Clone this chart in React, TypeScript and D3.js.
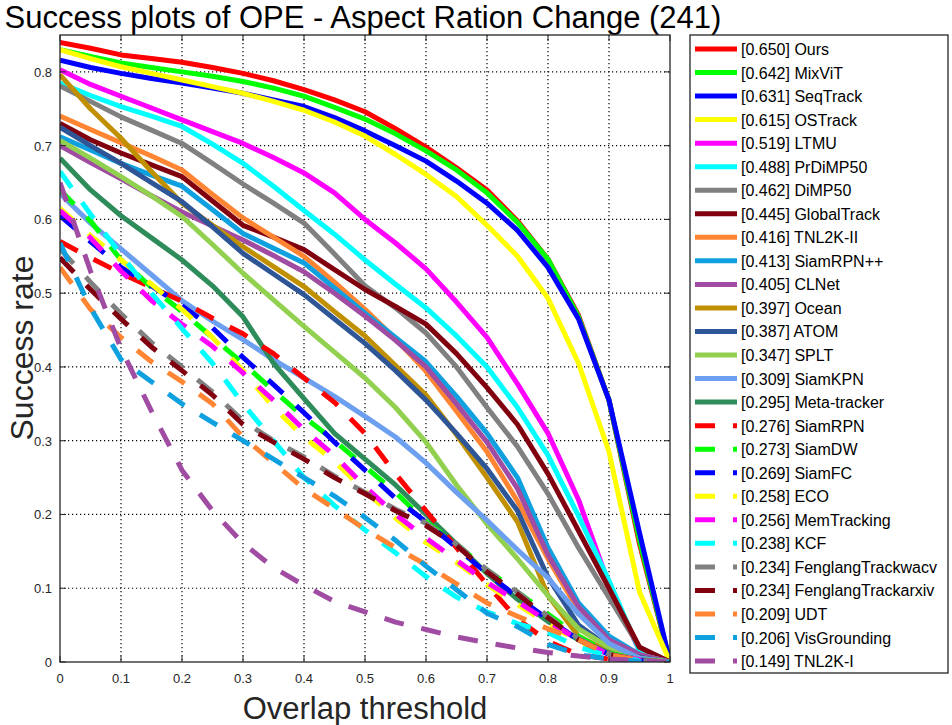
import React from "react";
import * as d3 from "d3";

// overlap thresholds sampled along the x axis
const thresholds = [0, 0.05, 0.1, 0.15, 0.2, 0.25, 0.3, 0.35, 0.4, 0.45, 0.5, 0.55, 0.6, 0.65, 0.7, 0.75, 0.8, 0.85, 0.9, 0.95, 1];

const trackers = [
  "Ours", "MixViT", "SeqTrack", "OSTrack", "LTMU", "PrDiMP50", "DiMP50", "GlobalTrack",
  "TNL2K-II", "SiamRPN++", "CLNet", "Ocean", "ATOM", "SPLT", "SiamKPN", "Meta-tracker",
  "SiamRPN", "SiamDW", "SiamFC", "ECO", "MemTracking", "KCF", "FenglangTrackwacv",
  "FenglangTrackarxiv", "UDT", "VisGrounding", "TNL2K-I",
];

const scores = [
  "0.650", "0.642", "0.631", "0.615", "0.519", "0.488", "0.462", "0.445",
  "0.416", "0.413", "0.405", "0.397", "0.387", "0.347", "0.309", "0.295",
  "0.276", "0.273", "0.269", "0.258", "0.256", "0.238", "0.234",
  "0.234", "0.209", "0.206", "0.149",
];

const colors = [
  "#ff0000", "#00ff00", "#0000ff", "#ffff00", "#ff00ff", "#00ffff", "#808080", "#800010",
  "#ff8533", "#0fa0e0", "#a04ca2", "#c09000", "#2e5596", "#92d050", "#6c9ff0", "#2e8b5a",
  "#ff0000", "#00ff00", "#0000ff", "#ffff00", "#ff00ff", "#00ffff", "#808080",
  "#800010", "#ff8533", "#0fa0e0", "#a04ca2",
];

// success rate per threshold, one array per tracker (legend order)
const ours = [0.840, 0.832, 0.823, 0.818, 0.813, 0.806, 0.798, 0.788, 0.776, 0.762, 0.746, 0.723, 0.698, 0.670, 0.640, 0.598, 0.546, 0.470, 0.355, 0.160, 0];
const mixvit = [0.830, 0.821, 0.812, 0.806, 0.800, 0.794, 0.787, 0.778, 0.767, 0.752, 0.736, 0.716, 0.693, 0.667, 0.636, 0.596, 0.546, 0.468, 0.355, 0.165, 0];
const seqtrack = [0.816, 0.806, 0.798, 0.791, 0.785, 0.778, 0.771, 0.762, 0.753, 0.738, 0.720, 0.700, 0.679, 0.652, 0.622, 0.585, 0.535, 0.465, 0.355, 0.175, 0];
const ostrack = [0.830, 0.818, 0.807, 0.798, 0.789, 0.780, 0.771, 0.760, 0.748, 0.732, 0.713, 0.688, 0.661, 0.631, 0.592, 0.550, 0.493, 0.405, 0.285, 0.095, 0];
const ltmu = [0.803, 0.783, 0.767, 0.751, 0.735, 0.719, 0.703, 0.684, 0.663, 0.636, 0.600, 0.568, 0.533, 0.488, 0.440, 0.377, 0.310, 0.220, 0.105, 0.015, 0];
const prdimp = [0.785, 0.768, 0.753, 0.740, 0.726, 0.702, 0.676, 0.645, 0.612, 0.580, 0.545, 0.512, 0.480, 0.442, 0.400, 0.345, 0.280, 0.198, 0.110, 0.015, 0];
const dimp = [0.781, 0.760, 0.739, 0.721, 0.703, 0.676, 0.648, 0.622, 0.595, 0.553, 0.510, 0.480, 0.446, 0.400, 0.345, 0.292, 0.228, 0.155, 0.087, 0.020, 0];
const globaltrack = [0.730, 0.708, 0.690, 0.674, 0.658, 0.625, 0.592, 0.576, 0.559, 0.532, 0.505, 0.482, 0.458, 0.418, 0.372, 0.322, 0.255, 0.178, 0.100, 0.020, 0];
const tnl2k2 = [0.740, 0.722, 0.704, 0.686, 0.667, 0.634, 0.602, 0.576, 0.550, 0.515, 0.478, 0.438, 0.394, 0.340, 0.285, 0.218, 0.140, 0.070, 0.030, 0.010, 0];
const siamrpnpp = [0.712, 0.694, 0.676, 0.660, 0.645, 0.613, 0.581, 0.561, 0.541, 0.507, 0.473, 0.440, 0.407, 0.360, 0.310, 0.250, 0.155, 0.080, 0.035, 0.010, 0];
const clnet = [0.700, 0.677, 0.655, 0.632, 0.610, 0.591, 0.572, 0.551, 0.529, 0.500, 0.469, 0.436, 0.400, 0.350, 0.298, 0.235, 0.145, 0.075, 0.030, 0.010, 0];
const ocean = [0.796, 0.750, 0.710, 0.665, 0.622, 0.592, 0.563, 0.536, 0.509, 0.475, 0.442, 0.402, 0.362, 0.308, 0.250, 0.190, 0.090, 0.035, 0.014, 0.004, 0];
const atom = [0.725, 0.700, 0.676, 0.650, 0.624, 0.590, 0.554, 0.526, 0.498, 0.465, 0.432, 0.395, 0.355, 0.310, 0.262, 0.205, 0.115, 0.050, 0.020, 0.006, 0];
const splt = [0.707, 0.683, 0.658, 0.632, 0.604, 0.566, 0.527, 0.491, 0.455, 0.420, 0.385, 0.345, 0.298, 0.240, 0.187, 0.140, 0.090, 0.045, 0.020, 0.005, 0];
const siamkpn = [0.635, 0.595, 0.560, 0.525, 0.490, 0.462, 0.437, 0.410, 0.385, 0.360, 0.333, 0.305, 0.270, 0.230, 0.192, 0.152, 0.114, 0.065, 0.025, 0.005, 0];
const metatracker = [0.683, 0.640, 0.605, 0.575, 0.545, 0.510, 0.468, 0.405, 0.357, 0.310, 0.275, 0.240, 0.200, 0.160, 0.120, 0.085, 0.055, 0.030, 0.012, 0.003, 0];
const siamrpn = [0.570, 0.548, 0.527, 0.508, 0.489, 0.466, 0.445, 0.418, 0.385, 0.352, 0.310, 0.255, 0.205, 0.155, 0.105, 0.058, 0.028, 0.010, 0.004, 0.002, 0];
const siamdw = [0.640, 0.598, 0.545, 0.508, 0.475, 0.440, 0.405, 0.368, 0.332, 0.300, 0.265, 0.230, 0.190, 0.160, 0.125, 0.095, 0.065, 0.035, 0.012, 0.003, 0];
const siamfc = [0.605, 0.570, 0.535, 0.510, 0.483, 0.453, 0.413, 0.376, 0.338, 0.298, 0.260, 0.222, 0.190, 0.155, 0.120, 0.088, 0.058, 0.030, 0.010, 0.002, 0];
const eco = [0.615, 0.578, 0.545, 0.512, 0.478, 0.440, 0.395, 0.345, 0.305, 0.272, 0.232, 0.195, 0.162, 0.135, 0.105, 0.078, 0.052, 0.028, 0.010, 0.003, 0];
const memtracking = [0.612, 0.575, 0.530, 0.490, 0.458, 0.428, 0.392, 0.355, 0.315, 0.280, 0.238, 0.200, 0.168, 0.138, 0.108, 0.082, 0.055, 0.030, 0.010, 0.003, 0];
const kcf = [0.665, 0.607, 0.552, 0.500, 0.452, 0.405, 0.350, 0.300, 0.250, 0.212, 0.179, 0.148, 0.116, 0.088, 0.068, 0.052, 0.040, 0.020, 0.008, 0.002, 0];
const fenglangWacv = [0.560, 0.515, 0.472, 0.433, 0.400, 0.366, 0.327, 0.300, 0.278, 0.252, 0.230, 0.207, 0.188, 0.160, 0.125, 0.095, 0.062, 0.032, 0.011, 0.002, 0];
const fenglangArxiv = [0.548, 0.505, 0.465, 0.427, 0.395, 0.362, 0.322, 0.298, 0.275, 0.250, 0.228, 0.205, 0.185, 0.158, 0.122, 0.092, 0.060, 0.030, 0.010, 0.002, 0];
const udt = [0.535, 0.478, 0.440, 0.407, 0.380, 0.350, 0.305, 0.270, 0.235, 0.208, 0.180, 0.155, 0.132, 0.106, 0.080, 0.062, 0.045, 0.030, 0.010, 0.002, 0];
const visgrounding = [0.568, 0.480, 0.410, 0.380, 0.350, 0.325, 0.300, 0.275, 0.250, 0.225, 0.196, 0.165, 0.130, 0.098, 0.066, 0.048, 0.024, 0.010, 0.004, 0.001, 0];
const tnl2k1 = [0.650, 0.530, 0.425, 0.340, 0.260, 0.205, 0.161, 0.128, 0.104, 0.082, 0.068, 0.054, 0.044, 0.034, 0.026, 0.019, 0.013, 0.008, 0.004, 0.002, 0];

const curves = [
  ours, mixvit, seqtrack, ostrack, ltmu, prdimp, dimp, globaltrack,
  tnl2k2, siamrpnpp, clnet, ocean, atom, splt, siamkpn, metatracker,
  siamrpn, siamdw, siamfc, eco, memtracking, kcf, fenglangWacv,
  fenglangArxiv, udt, visgrounding, tnl2k1,
];

const numSolid = 16;

const xTicks = [0, 0.1, 0.2, 0.3, 0.4, 0.5, 0.6, 0.7, 0.8, 0.9, 1];
const yTicks = [0, 0.1, 0.2, 0.3, 0.4, 0.5, 0.6, 0.7, 0.8];

const W = 952;
const H = 725;
const plot = { left: 60, right: 670, top: 35, bottom: 662 };
const font = "'Liberation Sans', Arial, Helvetica, sans-serif";

const App: React.FC = () => {
  const x = d3.scaleLinear().domain([0, 1]).range([plot.left, plot.right]);
  const y = d3.scaleLinear().domain([0, 0.85]).range([plot.bottom, plot.top]);

  const line = d3
    .line<number>()
    .x((_, i) => x(thresholds[i]))
    .y((d) => y(d));

  const legendX = 690;
  const legendTop = 35;
  const legendW = 258;
  const legendH = 638;
  const rowStart = 49;
  const rowStep = 23.54;

  return (
    <svg
      width={W}
      height={H}
      style={{ position: "absolute", left: 0, top: 0, background: "#fff" }}
      fontFamily={font}
    >
      <rect width={W} height={H} fill="#fff" />
      <defs>
        <clipPath id="plot-clip">
          <rect x={plot.left} y={plot.top} width={plot.right - plot.left} height={plot.bottom - plot.top} />
        </clipPath>
      </defs>

      {/* title */}
      <text x={363} y={28} textAnchor="middle" fontSize={31} fill="#000">
        Success plots of OPE - Aspect Ration Change (241)
      </text>

      {/* grid */}
      <g stroke="#000" strokeWidth={1.2} strokeDasharray="1.2 2.8">
        {xTicks.slice(1, -1).map((t) => (
          <line key={"gx" + t} x1={x(t)} x2={x(t)} y1={plot.top} y2={plot.bottom} />
        ))}
        {yTicks.slice(1).map((t) => (
          <line key={"gy" + t} x1={plot.left} x2={plot.right} y1={y(t)} y2={y(t)} />
        ))}
      </g>

      {/* curves */}
      <g clipPath="url(#plot-clip)" fill="none" strokeWidth={5} strokeLinejoin="round">
        {curves.map((c, i) => (
          <path
            key={trackers[i]}
            d={line(c) || ""}
            stroke={colors[i]}
            strokeDasharray={i >= numSolid ? "20 18" : undefined}
          />
        ))}
      </g>

      {/* axes box and ticks */}
      <rect
        x={plot.left}
        y={plot.top}
        width={plot.right - plot.left}
        height={plot.bottom - plot.top}
        fill="none"
        stroke="#262626"
        strokeWidth={1.3}
      />
      <g stroke="#262626" strokeWidth={1}>
        {xTicks.map((t) => (
          <g key={"tx" + t}>
            <line x1={x(t)} x2={x(t)} y1={plot.bottom} y2={plot.bottom - 6} />
            <line x1={x(t)} x2={x(t)} y1={plot.top} y2={plot.top + 6} />
          </g>
        ))}
        {yTicks.map((t) => (
          <g key={"ty" + t}>
            <line x1={plot.left} x2={plot.left + 6} y1={y(t)} y2={y(t)} />
            <line x1={plot.right} x2={plot.right - 6} y1={y(t)} y2={y(t)} />
          </g>
        ))}
      </g>
      <g fontSize={13} fill="#262626">
        {xTicks.map((t) => (
          <text key={"lx" + t} x={x(t)} y={plot.bottom + 21} textAnchor="middle">
            {String(t)}
          </text>
        ))}
        {yTicks.map((t) => (
          <text key={"ly" + t} x={plot.left - 8} y={y(t) + 5} textAnchor="end">
            {String(t)}
          </text>
        ))}
      </g>

      {/* axis labels */}
      <text x={365} y={719} textAnchor="middle" fontSize={31} fill="#262626">
        Overlap threshold
      </text>
      <text
        transform={`translate(33,348) rotate(-90)`}
        textAnchor="middle"
        fontSize={32}
        fill="#262626"
      >
        Success rate
      </text>

      {/* legend */}
      <rect x={legendX} y={legendTop} width={legendW} height={legendH} fill="#fff" stroke="#262626" strokeWidth={1.3} />
      {trackers.map((name, i) => {
        const ly = rowStart + i * rowStep;
        return (
          <g key={"leg" + name}>
            <line
              x1={695}
              x2={737}
              y1={ly}
              y2={ly}
              stroke={colors[i]}
              strokeWidth={5}
              strokeDasharray={i >= numSolid ? "20 18" : undefined}
            />
            <text x={741} y={ly + 6} fontSize={16} fill="#000">
              [{scores[i]}] {name}
            </text>
          </g>
        );
      })}
    </svg>
  );
};

export default App;
